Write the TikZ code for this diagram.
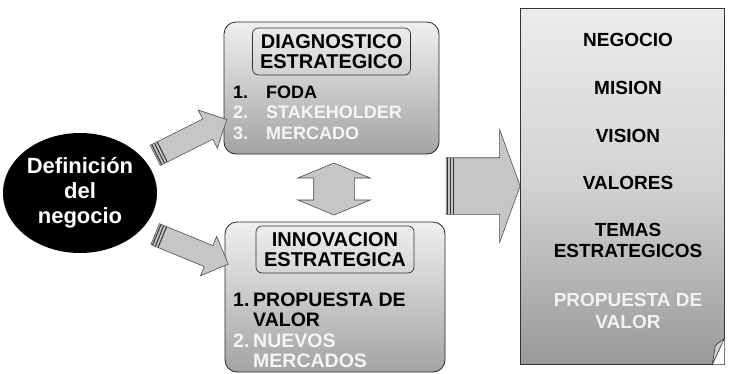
\documentclass[tikz,border=0pt]{standalone}
\usepackage{fontspec}
\setmainfont{Liberation Sans}
\usetikzlibrary{shapes.geometric,shapes.arrows,positioning,calc}

\tikzset{
  box/.style={draw=black!85, line width=0.8pt, rounded corners=12pt,
    top color=gray!12, middle color=gray!30, bottom color=gray!72},
  titlebox/.style={draw=black!80, line width=0.7pt, rounded corners=6pt,
    align=center, inner sep=1pt, minimum width=158pt, minimum height=47pt,
    font=\fontsize{20}{20}\selectfont\bfseries},
  item/.style={anchor=west, inner sep=0pt, font=\fontsize{18}{19}\selectfont\bfseries},
  bigitem/.style={anchor=west, inner sep=0pt, font=\fontsize{19.5}{20}\selectfont\bfseries},
  word/.style={inner sep=0pt, font=\fontsize{19}{21}\selectfont\bfseries},
  blockarrow/.style={single arrow, draw=black!70, fill=gray!45, line width=0.6pt,
    inner xsep=0pt},
}

\begin{document}
\begin{tikzpicture}[x=1pt,y=-1pt]
\useasboundingbox (0,0) rectangle (729,373);

% left: the starting point
\node[ellipse, fill=black, text=white, minimum width=154pt, minimum height=120pt,
  inner sep=0pt, align=center, font=\fontsize{22}{25}\selectfont\bfseries]
  (def) at (80,193) {Definición\\del\\negocio};

% the two middle boxes
\node[box, minimum width=215pt, minimum height=132pt] (diag) at (331.5,88) {};
\node[box, minimum width=220pt, minimum height=150pt] (innov) at (335,297) {};
\node[titlebox, below=6pt of diag.north] (diagT) {DIAGNOSTICO\\ESTRATEGICO};
\node[titlebox, below=4pt of innov.north] (innovT) {INNOVACION\\ESTRATEGICA};

\foreach \n/\txt/\y/\c in {1./FODA/92/black, 2./STAKEHOLDER/112/gray!8,
                            3./MERCADO/133/gray!8}{
  \node[item, text=\c] (dn\y) at (233,\y) {\n};
  \node[item, text=\c] (dt\y) at (266,\y) {\txt};
}
\foreach \n/\txt/\y/\c in {1./PROPUESTA DE/300/black, /VALOR/320/black,
                            2./NUEVOS/341/gray!8, /MERCADOS/361/gray!8}{
  \node[bigitem, text=\c] (in\y) at (233,\y) {\n};
  \node[bigitem, text=\c] (it\y) at (253,\y) {\txt};
}

% right box with folded corner
\node[draw=black!80, line width=0.8pt, minimum width=204pt, minimum height=356pt,
  top color=gray!15, bottom color=gray!80, middle color=gray!35] (result) at (622,186) {};
\fill[white] ($(result.south east)+(0,-26)$) -- (result.south east)
  -- ($(result.south east)+(-12,0)$) -- cycle;
\draw[black!80, fill=gray!35, line width=0.6pt] ($(result.south east)+(0,-26)$)
  -- ($(result.south east)+(-12,0)$) -- ($(result.south east)+(-9,-19)$) -- cycle;

\foreach \txt/\y/\c in {NEGOCIO/40/black, MISION/88/black, VISION/136/black,
    VALORES/183/black, TEMAS/230/black, ESTRATEGICOS/251/black,
    PROPUESTA DE/300/gray!10, VALOR/322/gray!10}{
  \node[word, text=\c] (r\y) at (628,\y) {\txt};
}

% block arrows
\node[blockarrow, minimum height=80pt, inner ysep=11pt, single arrow head extend=10pt,
  rotate=26.6] (up) at (186,140) {};
\node[blockarrow, minimum height=79pt, inner ysep=11pt, single arrow head extend=10pt,
  rotate=-22.3] (low) at (186.5,247) {};
\node[blockarrow, minimum height=74pt, inner ysep=28pt, single arrow head extend=28pt,
  single arrow tip angle=140] (big) at (478,186) {};
\node[double arrow, draw=black!70, fill=gray!45, line width=0.6pt, inner xsep=0pt,
  inner ysep=20pt, minimum height=52pt, double arrow head extend=16pt,
  double arrow tip angle=135, rotate=90] (both) at (334,189) {};

% stripes at the tails
\foreach \a/\hw in {up/11pt, low/11pt, big/28pt}{
  \foreach \k in {2,5,8}{
    \coordinate (s) at ($(\a.tail)!\k pt!(\a.tip)$);
    \draw[black!80, line width=1pt] ($(s)!\hw!90:(\a.tip)$) -- ($(s)!\hw!-90:(\a.tip)$);
  }
}
\end{tikzpicture}
\end{document}
